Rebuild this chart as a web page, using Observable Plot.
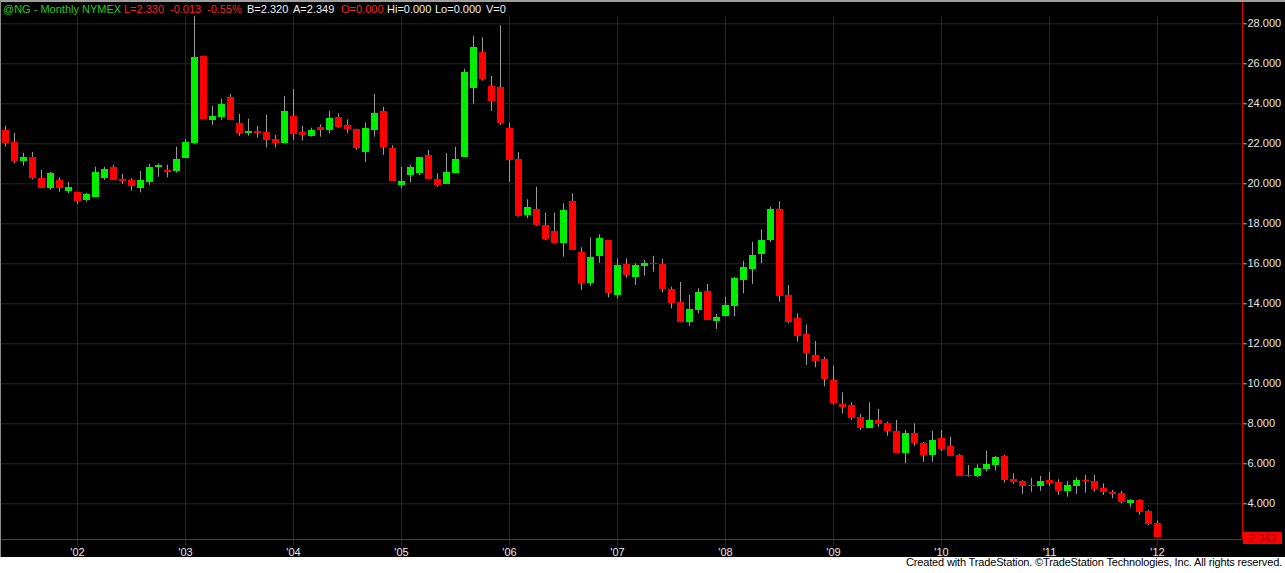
<!DOCTYPE html>
<html><head><meta charset="utf-8">
<script src="https://cdn.jsdelivr.net/npm/d3@7"></script>
<script src="https://cdn.jsdelivr.net/npm/@observablehq/plot@0.6"></script>
<style>
html,body{margin:0;padding:0;background:#fff;}
#wrap{position:relative;width:1285px;height:573px;overflow:hidden;font-family:"Liberation Sans",Arial,sans-serif;}
#chart{position:absolute;left:0;top:0;width:1285px;height:557px;background:#000;}
#hdr span{position:absolute;top:4px;font-size:11px;line-height:11px;white-space:nowrap;}
#caption{position:absolute;right:3px;top:557px;height:16px;font-size:11px;line-height:11px;color:#000;white-space:nowrap;}
.bt{position:absolute;left:0;top:0;width:1285px;height:2px;background:#a0a0a0}
.bl{position:absolute;left:0;top:0;width:1px;height:557px;background:#8a8a8a}
#last{position:absolute;left:1243px;top:532px;width:39px;height:12px;background:#ff0000;color:#990000;font-size:11px;line-height:12px;text-align:center}
</style>
</head><body>
<div id="wrap">
  <div id="chart"></div>
  <div id="hdr"></div>
  <div class="bt"></div><div class="bl"></div>
  <div id="last"></div>
  <div id="caption">Created with TradeStation. ©TradeStation Technologies, Inc. All rights reserved.</div>
</div>
<script>
// Monthly @NG candles, May 2001 .. Jan 2012
const startMonth = "2001-05-01";
const open = [22.67,22.07,21.13,21.32,20.25,19.78,20.15,19.62,19.55,19.17,19.33,20.28,20.82,20.22,20.17,19.78,20.05,20.80,20.67,20.63,21.28,22.00,26.38,23.17,23.33,24.32,23.02,22.52,22.63,22.57,22.22,22.00,23.37,22.57,22.38,22.83,22.68,23.33,22.92,22.73,21.58,22.67,23.60,21.77,19.93,20.43,20.53,21.42,20.20,19.97,20.50,21.33,24.78,26.58,24.87,24.83,22.78,21.22,18.42,18.70,17.92,17.62,17.02,19.12,16.57,15.02,16.38,17.17,14.42,15.95,15.33,15.87,16.03,15.97,14.72,14.07,13.08,13.68,14.62,13.12,13.37,13.88,15.17,15.72,16.47,17.17,18.70,14.43,13.27,12.47,11.42,11.22,10.17,8.97,8.92,8.33,7.78,8.15,8.03,7.62,6.53,7.53,7.03,6.43,7.25,6.87,6.42,5.43,5.37,5.72,5.92,6.37,5.23,5.12,4.93,4.87,5.18,5.08,4.62,4.87,5.18,5.12,4.78,4.57,4.50,4.03,4.15,3.62,3.00];
const high = [22.88,22.53,21.53,21.57,20.67,20.57,20.30,20.08,19.55,19.53,20.83,20.83,20.93,20.47,20.25,20.62,20.97,21.00,20.93,21.83,22.20,28.37,26.38,23.87,24.23,24.47,23.47,23.23,22.87,23.43,22.42,24.37,24.72,22.87,22.78,22.95,23.62,23.50,23.20,22.73,23.03,24.47,23.83,21.90,20.83,20.93,21.30,21.67,20.50,21.50,21.83,25.72,27.38,27.30,25.37,27.90,23.03,21.57,19.20,19.83,18.53,18.53,19.00,19.50,16.80,17.30,17.45,17.17,16.23,16.25,16.00,16.17,16.37,16.23,14.83,15.07,14.42,14.75,14.97,13.47,14.33,15.33,16.12,17.08,17.70,18.83,19.10,14.92,13.50,12.93,12.12,11.33,10.88,9.55,9.05,8.47,9.05,8.72,8.08,8.17,7.67,8.00,7.08,7.62,7.67,7.33,6.47,5.92,5.95,6.63,6.37,6.42,5.50,5.17,5.28,5.37,5.58,5.20,5.12,5.30,5.42,5.42,5.00,4.67,4.62,4.20,4.20,3.67,3.15];
const low = [21.83,21.00,20.88,20.20,19.75,19.67,19.58,19.50,18.97,19.08,19.33,20.17,20.17,19.97,19.63,19.55,19.92,20.33,20.30,20.53,21.28,21.95,23.20,22.92,23.17,23.17,22.38,22.38,22.28,21.80,21.80,22.00,22.17,22.13,22.33,22.33,22.50,22.78,22.50,21.68,21.07,22.33,21.42,20.13,19.75,20.05,20.40,20.22,19.83,19.97,20.50,21.33,23.98,25.13,23.62,22.92,20.07,18.33,18.25,17.88,17.17,17.02,16.33,16.67,14.67,14.87,16.03,14.30,14.23,15.28,14.92,15.38,15.58,14.55,13.75,13.05,12.88,13.50,13.18,12.72,13.33,13.35,14.50,14.97,16.00,17.07,14.08,13.00,12.08,10.92,10.80,9.85,8.95,8.50,8.17,7.67,7.78,7.83,7.37,6.50,6.00,6.87,6.08,6.08,6.62,6.37,5.38,5.33,5.30,5.59,5.63,5.03,4.97,4.47,4.58,4.62,4.87,4.42,4.33,4.47,4.53,4.58,4.42,4.25,4.00,3.80,3.42,2.92,2.32];
const close = [22.03,21.13,21.32,20.28,19.78,20.50,19.78,19.82,19.12,19.47,20.58,20.70,20.17,20.12,19.88,20.15,20.83,20.93,20.57,21.22,22.07,26.33,23.22,23.37,23.97,23.17,22.53,22.62,22.53,22.18,22.02,23.62,22.48,22.43,22.68,22.67,23.28,22.83,22.73,21.75,22.77,23.50,21.83,20.13,20.12,20.80,21.30,20.22,19.92,20.57,21.22,25.58,26.83,25.22,24.13,23.00,21.17,18.38,18.82,17.92,17.22,17.02,18.67,16.67,15.03,16.32,17.25,14.53,15.90,15.42,15.90,16.00,15.95,14.73,14.03,13.07,13.70,14.57,13.18,13.32,13.90,15.25,15.82,16.42,17.17,18.73,14.37,13.07,12.38,11.50,11.13,10.22,9.03,8.82,8.28,7.78,8.15,7.98,7.63,6.52,7.53,7.00,6.43,7.17,6.72,6.37,5.38,5.37,5.75,5.97,6.30,5.17,5.08,4.87,4.87,5.12,5.03,4.62,4.92,5.17,5.10,4.72,4.55,4.47,4.05,4.15,3.58,2.97,2.33];
const priceTicks = [4,6,8,10,12,14,16,18,20,22,24,26,28];
const yearLabels = ["'02","'03","'04","'05","'06","'07","'08","'09","'10","'11","'12"];
const lastPrice = "2.343";
const header = [
  ["@NG - Monthly", 3, "#22cc22"], ["NYMEX", 82, "#22cc22"],
  ["L=2.330", 124, "#ff2020"], ["-0.013", 170, "#ff2020"], ["-0.55%", 207, "#ff2020"],
  ["B=2.320", 247, "#f0f0f0"], ["A=2.349", 293, "#f0f0f0"],
  ["O=0.000", 341, "#ff2020"], ["Hi=0.000", 387, "#f0f0f0"], ["Lo=0.000", 435, "#f0f0f0"], ["V=0", 486, "#f0f0f0"]
];

const months = d3.utcMonth.range(new Date(startMonth), d3.utcMonth.offset(new Date(startMonth), open.length));
const data = open.map((o, i) => ({i, open: o, high: high[i], low: low[i], close: close[i]}));
const janIdx = months.map((m, i) => m.getUTCMonth() === 0 ? i : -1).filter(i => i >= 0);
const janLabel = new Map(janIdx.map((d, k) => [d, yearLabels[k]]));

const xMin = -5/9, xMax = 1237/9;
const yMin = 2.215, yMax = 28.365;

const chart = Plot.plot({
  width: 1285, height: 557,
  marginLeft: 0, marginRight: 43, marginTop: 16, marginBottom: 18,
  style: {background: "#000", color: "#e6e6e6", fontFamily: "'Liberation Sans', Arial, sans-serif", fontSize: "11px"},
  x: {domain: [xMin, xMax], axis: null, label: null},
  y: {domain: [yMin, yMax], axis: null, label: null},
  marks: [
    Plot.gridY(priceTicks, {stroke: "#262626", strokeOpacity: 1}),
    Plot.gridX(janIdx, {stroke: "#262626", strokeOpacity: 1, insetBottom: -7}),
    Plot.ruleX(data, {x: "i", y1: "low", y2: "high", stroke: "#9a9a9a"}),
    Plot.rect(data, {x1: d => d.i - 3.5/9, x2: d => d.i + 3.5/9, y1: "open", y2: "close",
      fill: d => d.close >= d.open ? "#00ee00" : "#ff0000", shapeRendering: "crispEdges"}),
    Plot.ruleY([yMin], {stroke: "#e00000"}),
    Plot.ruleX([xMax], {stroke: "#e00000", insetTop: -16}),
    Plot.axisY(priceTicks, {anchor: "right", label: null, tickSize: 4, tickPadding: 1, tickFormat: d3.format(".3f"), stroke: "#b0b0b0", fill: "#e6e6e6"}),
    Plot.axisX(janIdx, {anchor: "bottom", label: null, tickSize: 0, tickPadding: 9, tickFormat: d => janLabel.get(d), fill: "#e6e6e6"})
  ]
});
document.getElementById("chart").appendChild(chart);

const hdr = document.getElementById("hdr");
for (const [t, x, c] of header) {
  const s = document.createElement("span");
  s.textContent = t; s.style.left = x + "px"; s.style.color = c;
  hdr.appendChild(s);
}
document.getElementById("last").textContent = lastPrice;
const cap = document.getElementById("caption");
const w = cap.getBoundingClientRect().width;
const n = cap.textContent.length;
cap.style.letterSpacing = ((376 - w) / n) + "px";
</script>
</body></html>
